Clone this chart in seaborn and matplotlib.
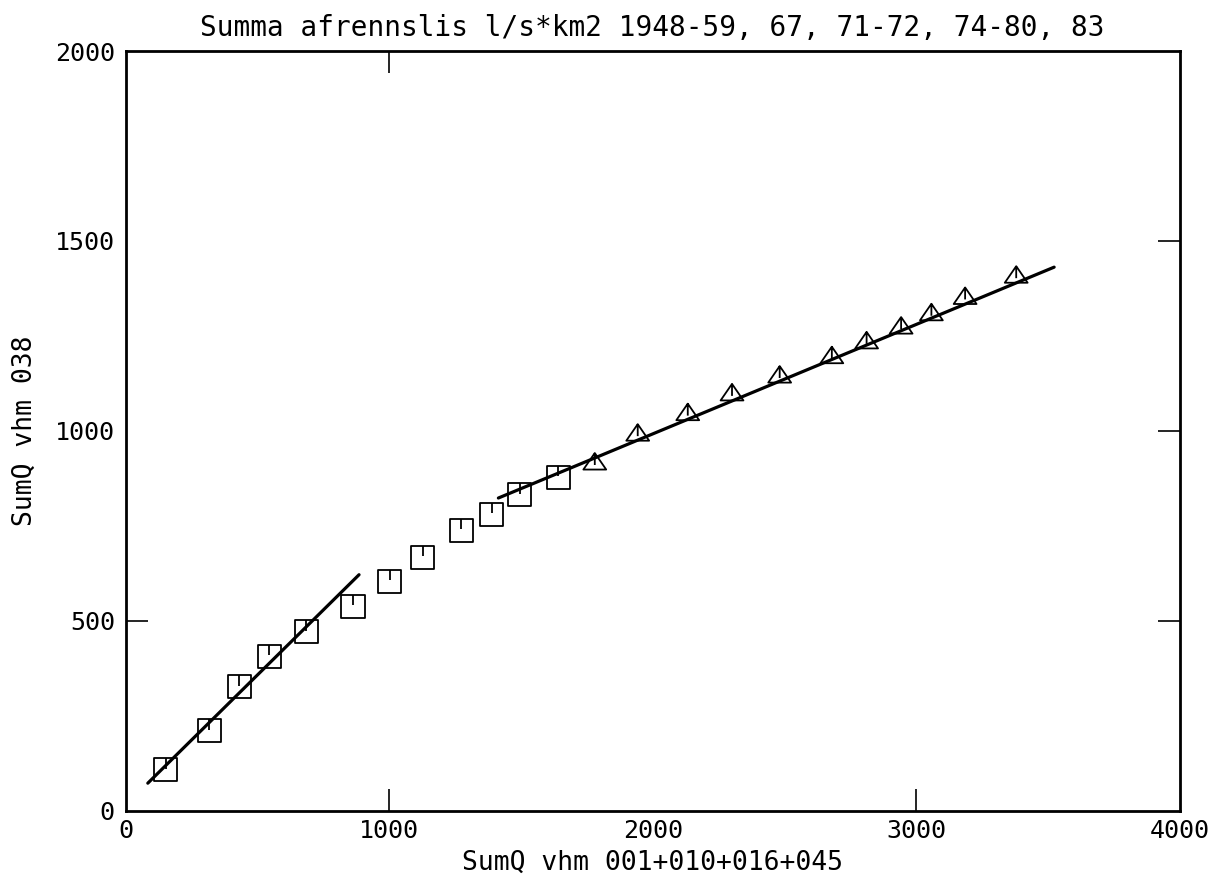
import numpy as np
import pandas as pd
import matplotlib
matplotlib.use("Agg")
import matplotlib.pyplot as plt
from matplotlib.path import Path
from matplotlib.markers import MarkerStyle
from matplotlib.ticker import FixedLocator
import seaborn as sns

# Period 1 (squares) and period 2 (triangles): cumulative runoff
sq_x = [151, 316, 431, 544, 684, 862, 1002, 1126, 1273, 1388, 1496, 1641]
sq_y = [107, 210, 326, 406, 471, 537, 604, 666, 738, 780, 831, 877]
tri_x = [1780, 1943, 2133, 2301, 2482, 2680, 2812, 2943, 3058, 3186, 3380]
tri_y = [919, 995, 1049, 1101, 1148, 1199, 1238, 1277, 1312, 1355, 1411]

# Fitted straight lines (end points)
fit1_x = [83, 885]
fit1_y = [72, 621]
fit2_x = [1414, 3524]
fit2_y = [823, 1431]

x_ticks = [0, 1000, 2000, 3000, 4000]
y_ticks = [0, 500, 1000, 1500, 2000]

title = "Summa afrennslis l/s*km2 1948-59, 67, 71-72, 74-80, 83"
x_label = "SumQ vhm 001+010+016+045"
y_label = "SumQ vhm 038"

sns.set_theme(style="white")
plt.rcParams["font.family"] = ["DejaVu Sans Mono", "DejaVu Sans"]
plt.rcParams["text.color"] = "black"
plt.rcParams["axes.labelcolor"] = "black"

fig = plt.figure(figsize=(12.11, 8.81), dpi=100)
ax = fig.add_axes([0.104, 0.080, 0.870, 0.862])

# plot symbols: open square / triangle with a short stem from the top
sq_path = Path(
    [(-1, -1), (1, -1), (1, 1), (-1, 1), (-1, -1), (0, 1), (0, 0.1)],
    [Path.MOVETO, Path.LINETO, Path.LINETO, Path.LINETO, Path.CLOSEPOLY,
     Path.MOVETO, Path.LINETO],
)
tri_path = Path(
    [(-1, -0.7), (1, -0.7), (0, 0.75), (-1, -0.7), (0, 0.75), (0, -0.3)],
    [Path.MOVETO, Path.LINETO, Path.LINETO, Path.CLOSEPOLY,
     Path.MOVETO, Path.LINETO],
)

df_sq = pd.DataFrame({"x": sq_x, "y": sq_y})
df_tri = pd.DataFrame({"x": tri_x, "y": tri_y})

sns.scatterplot(data=df_sq, x="x", y="y", marker=MarkerStyle(sq_path), s=275,
                facecolor="none", edgecolor="black", linewidth=1.3, ax=ax, zorder=3)
sns.scatterplot(data=df_tri, x="x", y="y", marker=MarkerStyle(tri_path), s=270,
                facecolor="none", edgecolor="black", linewidth=1.3, ax=ax, zorder=3)

sns.lineplot(x=fit1_x, y=fit1_y, color="black", linewidth=2.3, ax=ax, zorder=2)
sns.lineplot(x=fit2_x, y=fit2_y, color="black", linewidth=2.3, ax=ax, zorder=2)

ax.set_xlim(0, 4000)
ax.set_ylim(0, 2000)

fs = 18
ax.set_xticks(x_ticks)
ax.set_yticks(y_ticks)
ax.set_xticklabels([str(v) for v in x_ticks], fontsize=fs)
ax.set_yticklabels([str(v) for v in y_ticks], fontsize=fs)
ax.tick_params(axis="x", which="major", length=0, pad=6, colors="black")
ax.tick_params(axis="y", which="major", length=0, pad=8, colors="black")
ax.xaxis.remove_overlapping_locs = False
ax.yaxis.remove_overlapping_locs = False
ax.xaxis.set_minor_locator(FixedLocator([1000, 3000]))
ax.yaxis.set_minor_locator(FixedLocator([500]))
ax.tick_params(axis="both", which="minor", direction="in", length=16,
               width=1.2, color="black", bottom=True, left=True)

top = ax.secondary_xaxis("top")
top.set_xticks([1000])
top.set_xticklabels([])
top.tick_params(direction="in", length=16, width=1.2, color="black")
right = ax.secondary_yaxis("right")
right.set_yticks([500, 1000, 1500])
right.set_yticklabels([])
right.tick_params(direction="in", length=16, width=1.2, color="black")
for s in list(top.spines.values()) + list(right.spines.values()):
    s.set_visible(False)

for s in ax.spines.values():
    s.set_color("black")
    s.set_linewidth(2.0)

ax.set_xlabel(x_label, fontsize=19, labelpad=5)
ax.set_ylabel(y_label, fontsize=19, labelpad=12)
ax.set_title(title, fontsize=20, pad=11)
ax.grid(False)

fig.savefig("out.png", dpi=100, facecolor="white")
